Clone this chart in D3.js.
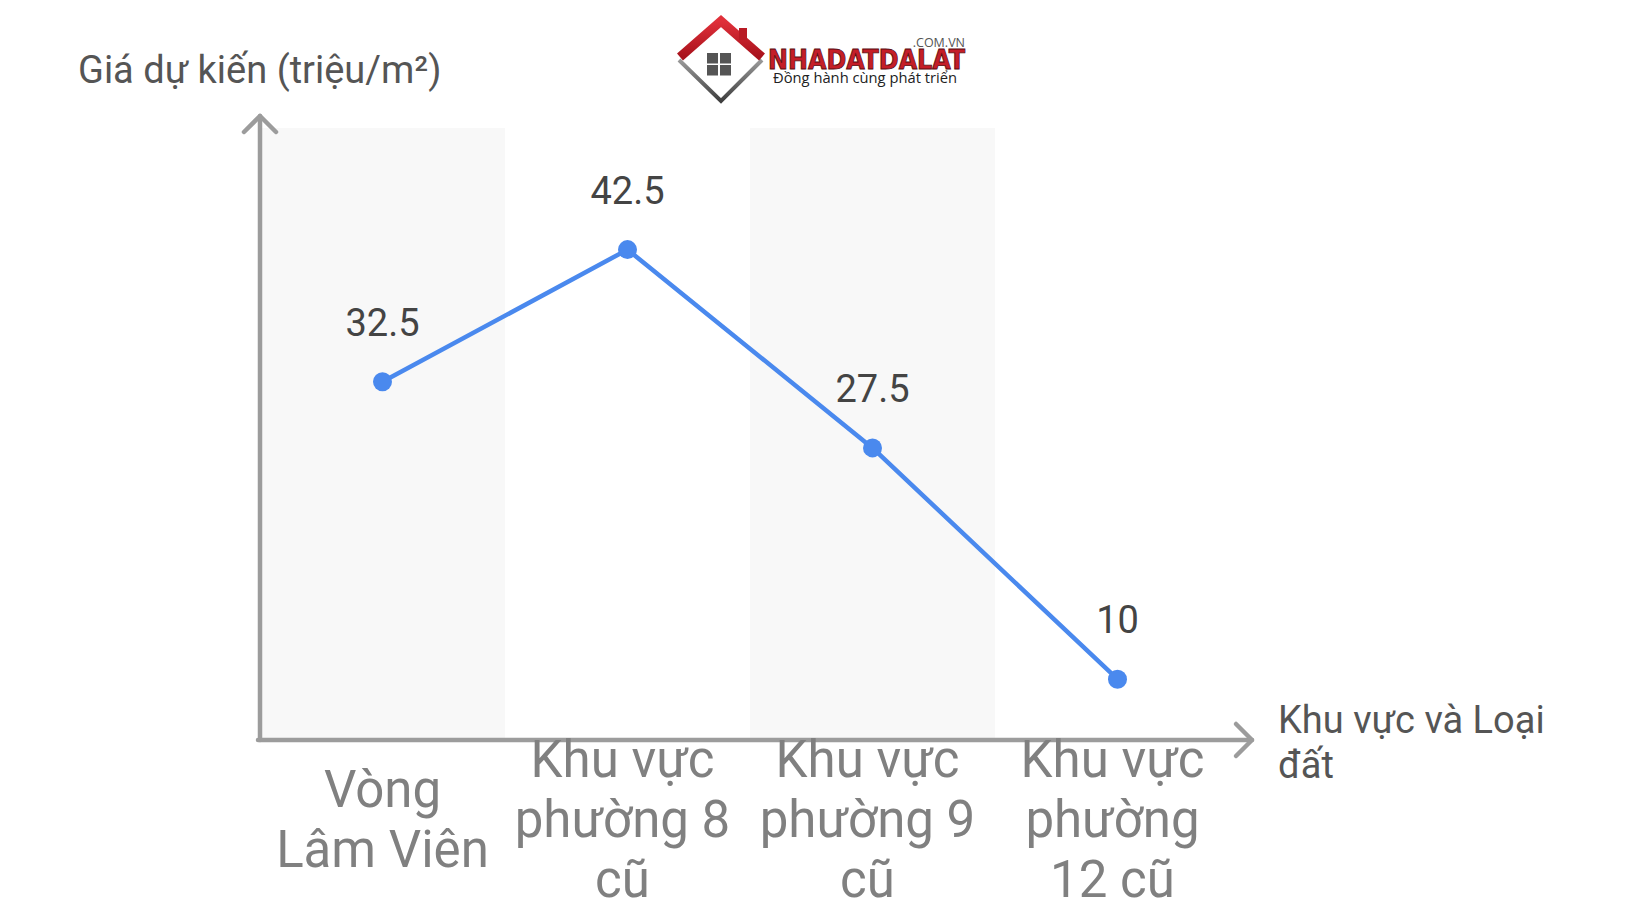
<!DOCTYPE html>
<html>
<head>
<meta charset="utf-8">
<script src="https://cdn.jsdelivr.net/npm/d3@7/dist/d3.min.js"></script>
<style>
  html, body { margin: 0; padding: 0; background: #ffffff; }
  svg { display: block; }
</style>
</head>
<body>
<svg id="chart" width="1640" height="924"></svg>
<script>
// ---- data ----
const categories = ["Vòng Lâm Viên", "Khu vực phường 8 cũ", "Khu vực phường 9 cũ", "Khu vực phường 12 cũ"];
const categoryLines = [
  ["Vòng", "Lâm Viên"],
  ["Khu vực", "phường 8", "cũ"],
  ["Khu vực", "phường 9", "cũ"],
  ["Khu vực", "phường", "12 cũ"]
];
const prices = [32.5, 42.5, 27.5, 10];
const yTitle = "Giá dự kiến (triệu/m²)";
const xTitleLines = ["Khu vực và Loại", "đất"];
const yDomain = [5.4, 51.7];

// ---- layout ----
const svg = d3.select("#chart");
const FONT = "Roboto, 'Noto Sans', sans-serif";
const plotLeft = 260, plotRight = 1240, plotTop = 128, plotBottom = 740;

const x = d3.scaleBand().domain(categories).range([plotLeft, plotRight]).paddingInner(0).paddingOuter(0);
const y = d3.scaleLinear().domain(yDomain).range([plotBottom, plotTop]);

// alternating background bands
svg.append("g").selectAll("rect")
  .data(categories.filter((d, i) => i % 2 === 0))
  .join("rect")
  .attr("x", d => x(d))
  .attr("y", plotTop)
  .attr("width", x.bandwidth())
  .attr("height", plotBottom - plotTop)
  .attr("fill", "#f8f8f8");

// axes
const axisColor = "#9c9c9c";
const ax = svg.append("g").attr("fill", "none").attr("stroke", axisColor)
  .attr("stroke-width", 4.5).attr("stroke-linecap", "round").attr("stroke-linejoin", "round");
ax.append("line").attr("x1", plotLeft).attr("y1", plotBottom).attr("x2", plotLeft).attr("y2", 116);
ax.append("polyline").attr("points", `${plotLeft - 16},${132} ${plotLeft},${116} ${plotLeft + 16},${132}`);
ax.append("line").attr("x1", plotLeft - 2).attr("y1", plotBottom).attr("x2", 1252).attr("y2", plotBottom);
ax.append("polyline").attr("points", `${1236},${plotBottom - 16} ${1252},${plotBottom} ${1236},${plotBottom + 16}`);

// line
const cx = d => x(d) + x.bandwidth() / 2;
const lineGen = d3.line().x((d, i) => cx(categories[i])).y(d => y(d));
svg.append("path").datum(prices)
  .attr("d", lineGen)
  .attr("fill", "none")
  .attr("stroke", "#4a89ee")
  .attr("stroke-width", 4.5)
  .attr("stroke-linejoin", "round");

svg.append("g").selectAll("circle")
  .data(prices)
  .join("circle")
  .attr("cx", (d, i) => cx(categories[i]))
  .attr("cy", d => y(d))
  .attr("r", 9.5)
  .attr("fill", "#4a89ee");

// value labels
svg.append("g").selectAll("text")
  .data(prices)
  .join("text")
  .attr("x", (d, i) => cx(categories[i]))
  .attr("y", d => y(d) - 46)
  .attr("text-anchor", "middle")
  .attr("font-family", FONT)
  .attr("font-size", 38)
  .attr("fill", "#444444")
  .text(d => String(d));

// category labels
const lineH = 60, centerBase = 837;
const catG = svg.append("g");
categories.forEach((c, i) => {
  const lines = categoryLines[i];
  const first = centerBase - (lines.length - 1) * lineH / 2;
  const shift = lines.length > 2 ? -5 : 0;
  const t = catG.append("text")
    .attr("text-anchor", "middle")
    .attr("font-family", FONT)
    .attr("font-size", 51)
    .attr("fill", "#808080");
  lines.forEach((l, j) => {
    t.append("tspan").attr("x", cx(c) + shift).attr("y", first + j * lineH).text(l);
  });
});

// axis titles
svg.append("text")
  .attr("x", 78).attr("y", 83)
  .attr("font-family", FONT).attr("font-size", 38).attr("fill", "#555555")
  .text(yTitle);

const xt = svg.append("text")
  .attr("font-family", FONT).attr("font-size", 38).attr("fill", "#555555");
xTitleLines.forEach((l, j) => {
  xt.append("tspan").attr("x", 1278).attr("y", 733 + j * 45).text(l);
});

// ---- logo ----
const logo = svg.append("g");
const defs = svg.append("defs");
const rg = defs.append("linearGradient").attr("id", "roofG").attr("x1", 0).attr("y1", 0).attr("x2", 0).attr("y2", 1);
rg.append("stop").attr("offset", "0%").attr("stop-color", "#e0303a");
rg.append("stop").attr("offset", "100%").attr("stop-color", "#a8121c");
const gg = defs.append("linearGradient").attr("id", "baseG").attr("x1", 0).attr("y1", 0).attr("x2", 0).attr("y2", 1);
gg.append("stop").attr("offset", "0%").attr("stop-color", "#9a9a9a");
gg.append("stop").attr("offset", "100%").attr("stop-color", "#3e3e3e");

// base (lower diamond edges)
logo.append("path")
  .attr("d", "M679,60 L721,101 L762,60")
  .attr("fill", "none").attr("stroke", "url(#baseG)").attr("stroke-width", 4)
  .attr("stroke-linejoin", "miter");
// roof
logo.append("path")
  .attr("d", "M680,57 L721,21 L762,57")
  .attr("fill", "none").attr("stroke", "url(#roofG)").attr("stroke-width", 9)
  .attr("stroke-linejoin", "miter");
// chimney
logo.append("rect").attr("x", 739).attr("y", 28).attr("width", 8).attr("height", 12).attr("fill", "#b81a24");
// window
const win = [[0, 0], [1, 0], [0, 1], [1, 1]];
logo.selectAll("rect.w").data(win).join("rect")
  .attr("class", "w")
  .attr("x", d => 707 + d[0] * 13).attr("y", d => 53 + d[1] * 12)
  .attr("width", 11).attr("height", 10.5).attr("fill", "#555555");

logo.append("text")
  .attr("x", 965).attr("y", 47).attr("text-anchor", "end")
  .attr("font-family", "'Open Sans', sans-serif").attr("font-size", 12.5).attr("fill", "#555555")
  .text(".COM.VN");
logo.append("text")
  .attr("x", 768).attr("y", 69)
  .attr("textLength", 197).attr("lengthAdjust", "spacingAndGlyphs")
  .attr("font-family", "'Liberation Sans Narrow', 'DejaVu Sans Condensed', sans-serif")
  .attr("font-weight", "bold").attr("font-size", 26)
  .attr("fill", "#c41e28").attr("stroke", "#5a0a0e").attr("stroke-width", 0.8)
  .text("NHADATDALAT");
logo.append("text")
  .attr("x", 773).attr("y", 83)
  .attr("textLength", 184).attr("lengthAdjust", "spacingAndGlyphs")
  .attr("font-family", "'Open Sans', sans-serif").attr("font-size", 15).attr("fill", "#222222")
  .text("Đồng hành cùng phát triển");
</script>
</body>
</html>
